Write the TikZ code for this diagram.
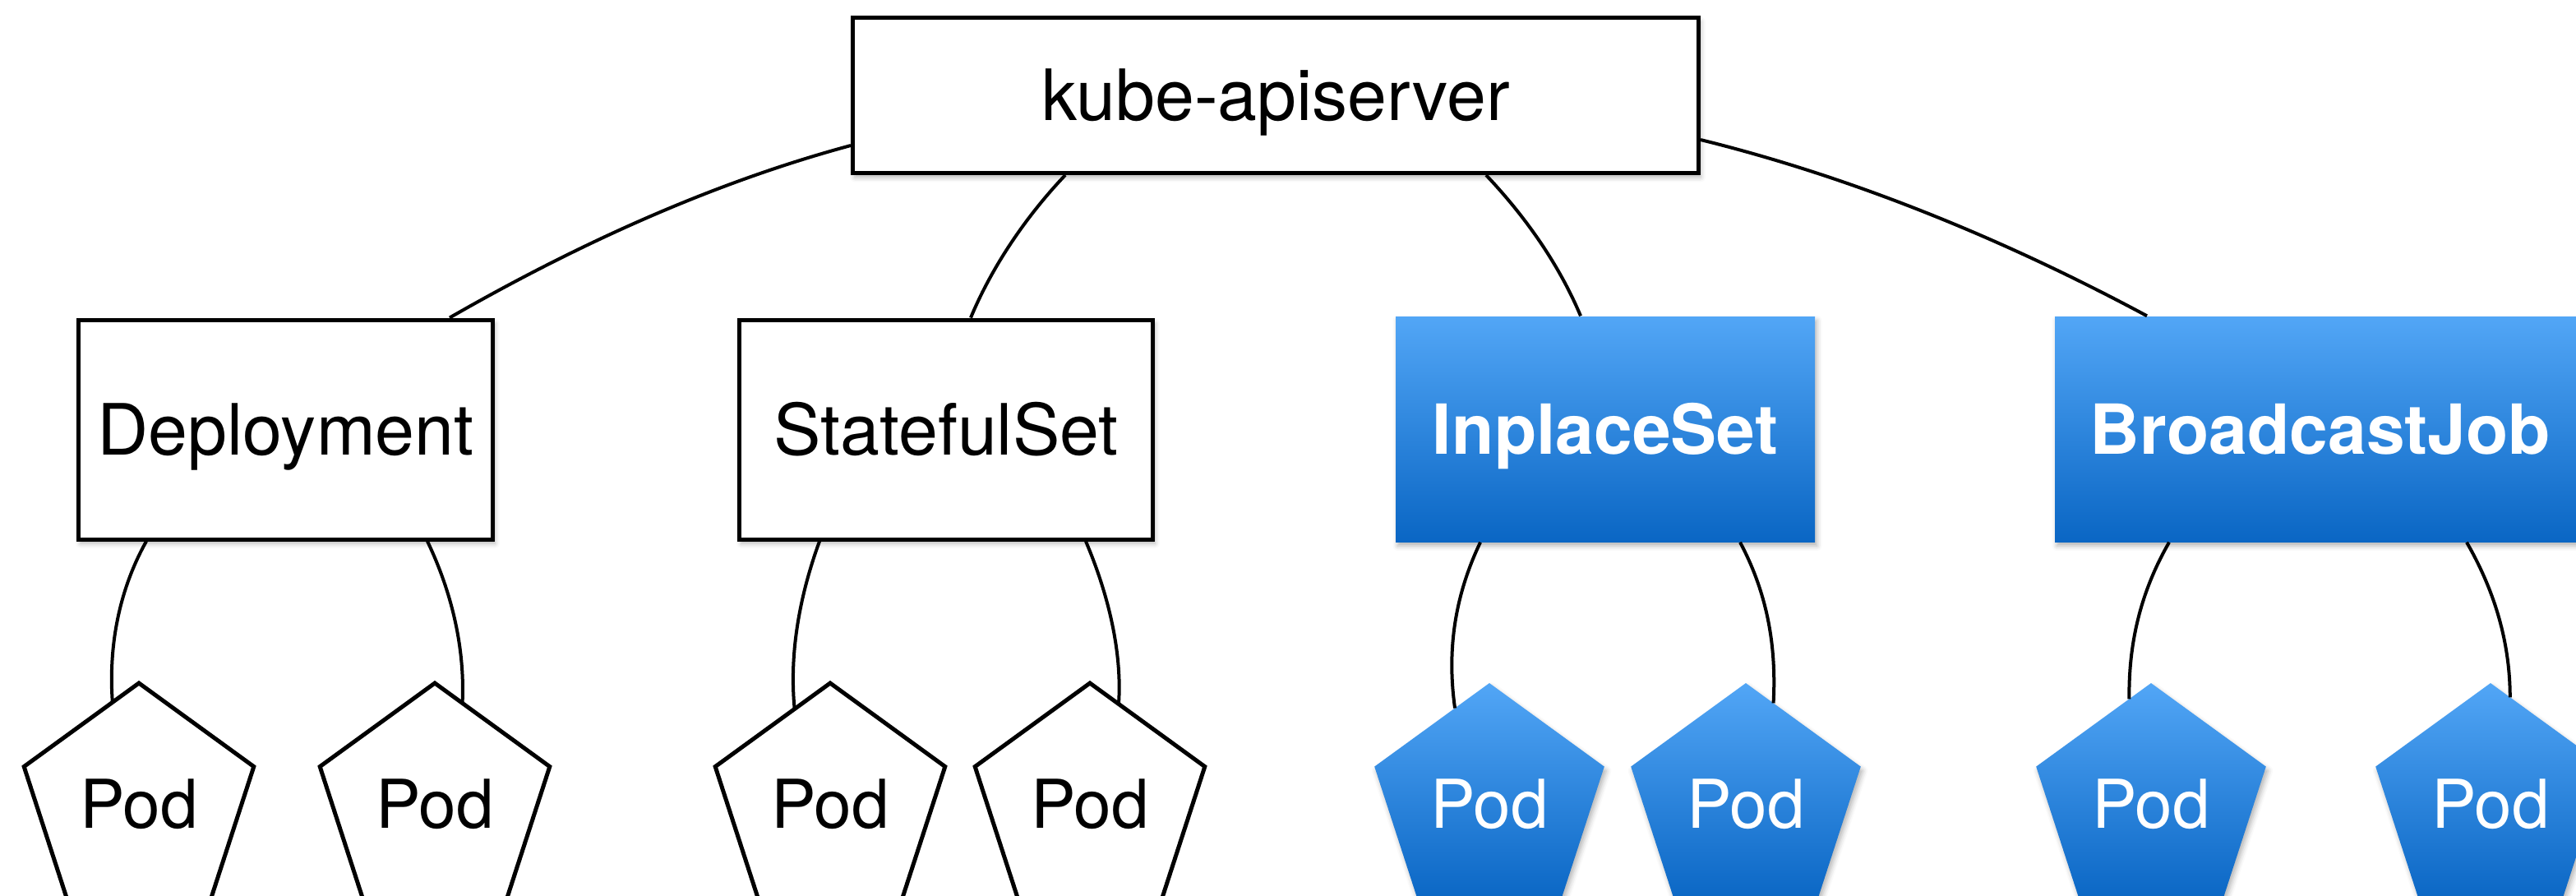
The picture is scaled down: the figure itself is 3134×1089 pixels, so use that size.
\documentclass[tikz,border=0pt]{standalone}
\usepackage{fontspec}
\setmainfont{TeX Gyre Heros}
\usetikzlibrary{calc,shapes.geometric,shadows.blur}

\definecolor{bluetop}{HTML}{52A6F6}
\definecolor{bluebot}{HTML}{0A66C4}

\begin{document}
\begin{tikzpicture}[x=0.1mm,y=-0.1mm,
  softshadow/.style={blur shadow={shadow xshift=0.25mm, shadow yshift=-0.5mm,
      shadow blur radius=0.6mm, shadow opacity=30}},
  wbox/.style={draw=black, line width=0.5mm, fill=white, inner sep=0pt,
      minimum height=26.7mm, softshadow,
      font=\fontsize{24.5}{29}\selectfont, text height=17.6pt, text depth=0pt},
  bbox/.style={top color=bluetop, bottom color=bluebot, inner sep=0pt,
      minimum height=27.4mm, softshadow, text=white,
      font=\fontsize{23.9}{28}\selectfont\bfseries, text height=17.2pt, text depth=0pt},
  podshape/.style={regular polygon, regular polygon sides=5,
      minimum size=29.4mm, inner sep=0pt, outer sep=0pt,
      font=\fontsize{23.3}{28}\selectfont, text height=16.8pt, text depth=0pt},
  podw/.style={podshape, draw=black, line width=0.5mm, fill=white},
  podb/.style={podshape, top color=bluetop, bottom color=bluebot,
      text=white, softshadow},
  conn/.style={line width=0.4mm, line cap=butt}]

\useasboundingbox (0,0) rectangle (3134,1089);
\clip (0,0) rectangle (3134,1089);

% API server and the four controllers
\node[wbox, minimum width=102.9mm, minimum height=18.9mm] (api) at (1552,116) {kube-apiserver};
\node[wbox, minimum width=50.4mm] (dep) at (347.5,522.5) {Deployment};
\node[wbox, minimum width=50.3mm] (sts) at (1151,522.5) {StatefulSet};
\node[bbox, minimum width=51mm] (ips) at (1953,522) {InplaceSet};
\node[bbox, minimum width=64.6mm] (bcj) at (2823,522) {BroadcastJob};

% Pods
\node[podw] (p1) at (169,978) {Pod};
\node[podw] (p2) at (529,978) {Pod};
\node[podw] (p3) at (1010,978) {Pod};
\node[podw] (p4) at (1326,978) {Pod};
\node[podb] (p5) at (1812,978) {Pod};
\node[podb] (p6) at (2124,978) {Pod};
\node[podb] (p7) at (2617,978) {Pod};
\node[podb] (p8) at (3030,978) {Pod};

% API server to controllers
\draw[conn] ($(api.west)+(0,61)$) .. controls +(-163,44) and +(162,-93) .. ($(dep.north)+(199.5,0)$);
\draw[conn] ($(api.south)+(-256,0)$) .. controls +(-55,58) and +(22,-53) .. ($(sts.north)+(30,0)$);
\draw[conn] ($(api.south)+(256,0)$) .. controls +(53,56) and +(-24,-57) .. ($(ips.north)+(-30,0)$);
\draw[conn] ($(api.east)+(0,54)$) .. controls +(170,42) and +(-190,-102) .. ($(bcj.north)+(-211,0)$);

% Controllers to their pods
\draw[conn] ($(dep.south)+(-169.5,0)$) .. controls +(-33,59) and +(-5,-69) .. ($(p1.corner 1)!0.23!(p1.corner 2)$);
\draw[conn] ($(dep.south)+(172.5,0)$) .. controls +(32,67) and +(3,-62) .. ($(p2.corner 1)!0.24!(p2.corner 5)$);
\draw[conn] ($(sts.south)+(-154,0)$) .. controls +(-27,74) and +(-6,-61) .. ($(p3.corner 1)!0.31!(p3.corner 2)$);
\draw[conn] ($(sts.south)+(170,0)$) .. controls +(31,73) and +(4,-56) .. ($(p4.corner 1)!0.25!(p4.corner 5)$);
\draw[conn] ($(ips.south)+(-152,0)$) .. controls +(-31,65) and +(-10,-71) .. ($(p5.corner 1)!0.30!(p5.corner 2)$);
\draw[conn] ($(ips.south)+(164,0)$) .. controls +(32,60) and +(4,-72) .. ($(p6.corner 1)!0.24!(p6.corner 5)$);
\draw[conn] ($(bcj.south)+(-184,0)$) .. controls +(-34,59) and +(-1,-69) .. ($(p7.corner 1)!0.19!(p7.corner 2)$);
\draw[conn] ($(bcj.south)+(178,0)$) .. controls +(35,61) and +(0,-65) .. ($(p8.corner 1)!0.17!(p8.corner 5)$);

\end{tikzpicture}
\end{document}
